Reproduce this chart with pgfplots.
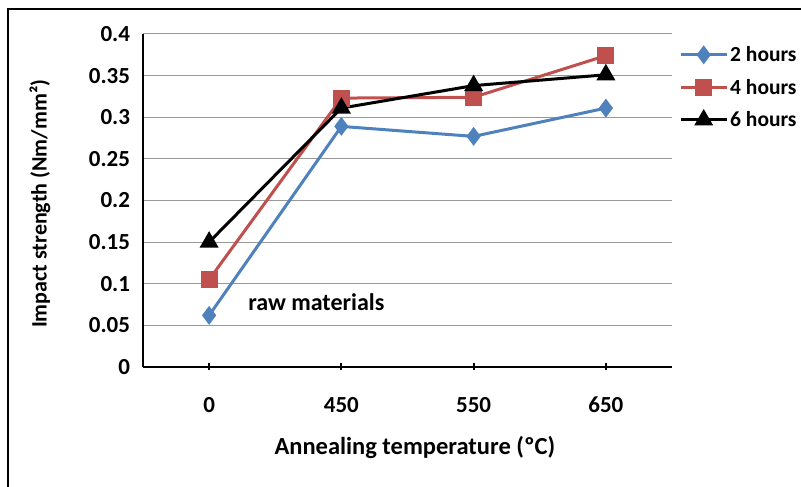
\documentclass[border=0pt]{standalone}
\usepackage{pgfplots}
\pgfplotsset{compat=1.18}
\usepackage{fontspec}
\setmainfont{Carlito}

\definecolor{xlblue}{HTML}{4F81BD}
\definecolor{xlred}{HTML}{C0504D}

\newcommand{\chartfont}{\bfseries\fontsize{23}{25}\selectfont}

\begin{document}
\begin{tikzpicture}[x=1pt,y=1pt]
\path[use as bounding box] (0,0) rectangle (801,487);
\draw[line width=2pt] (8,0) -- (8,478) -- (801,478);
\begin{axis}[
    at={(143pt,120pt)}, anchor=south west,
    scale only axis, width=529pt, height=333pt,
    xmin=0, xmax=4, ymin=0, ymax=0.4,
    xtick={0.5,1.5,2.5,3.5}, xticklabels={0,450,550,650},
    ytick={0,0.05,0.1,0.15,0.2,0.25,0.3,0.35,0.4},
    yticklabels={0,0.05,0.1,0.15,0.2,0.25,0.3,0.35,0.4},
    axis x line=bottom, axis y line=left,
    axis line style={line width=2.5pt,-},
    ymajorgrids, grid style={gray!80,line width=1pt},
    ytick style={draw=none},
    xtick style={line width=2pt,black},
    major tick length=7pt, tick align=center,
    tick label style={font=\chartfont},
    xticklabel style={yshift=-23pt},
    yticklabel style={xshift=-6pt},
    xlabel={Annealing temperature (ºC)},
    ylabel={Impact strength (Nm/mm²)},
    xlabel style={font=\bfseries\fontsize{24.5}{26}\selectfont,
        at={(axis description cs:0.514,0)}, anchor=center, yshift=-80pt},
    ylabel style={font=\bfseries\fontsize{22}{24}\selectfont,
        at={(axis description cs:0,0.49)}, anchor=center, yshift=103pt},
    legend style={at={(1,0.975)}, anchor=north west, xshift=4pt, draw=none, fill=none,
        font=\bfseries\fontsize{21.5}{23}\selectfont, row sep=12pt, legend cell align=left,
        /tikz/every even column/.append style={column sep=-6pt}},
    legend image code/.code={\draw[mark repeat=2,mark phase=2] plot coordinates {(0pt,0pt) (23pt,0pt) (46pt,0pt)};},
    every axis plot/.append style={line width=3pt},
]
\addplot[xlblue, mark=diamond*, mark size=7pt, mark options={solid}]
    coordinates {(0.5,0.062) (1.5,0.289) (2.5,0.277) (3.5,0.311)};
\addlegendentry{2 hours}
\addplot[xlred, mark=square*, mark size=7pt]
    coordinates {(0.5,0.105) (1.5,0.323) (2.5,0.324) (3.5,0.374)};
\addlegendentry{4 hours}
\addplot[black, mark=triangle*, mark size=8pt]
    coordinates {(0.5,0.150) (1.5,0.311) (2.5,0.338) (3.5,0.351)};
\addlegendentry{6 hours}
\node[anchor=west, font=\bfseries\fontsize{24}{26}\selectfont] at (axis cs:0.77,0.078) {raw materials};
\end{axis}
\end{tikzpicture}
\end{document}
